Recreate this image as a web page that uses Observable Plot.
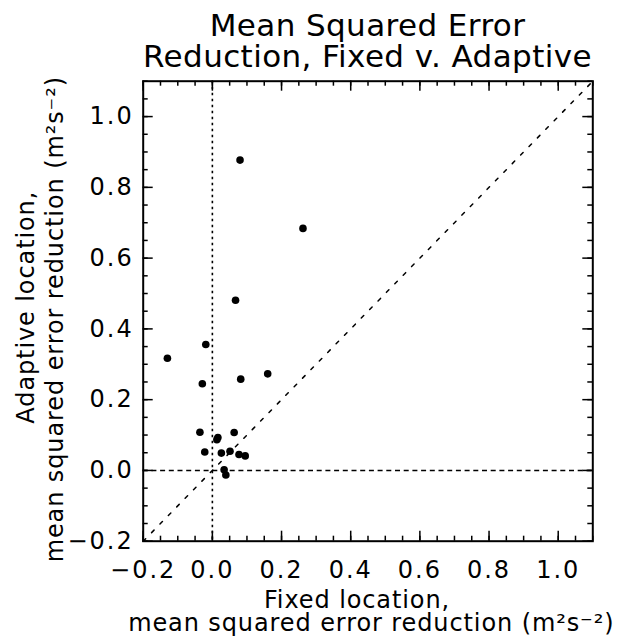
<!DOCTYPE html>
<html>
<head>
<meta charset="utf-8">
<script src="https://cdn.jsdelivr.net/npm/d3@7"></script>
<script src="https://cdn.jsdelivr.net/npm/@observablehq/plot@0.6"></script>
<style>
  html, body { margin: 0; padding: 0; background: #fff; }
  #wrap { position: relative; width: 629px; height: 638px; }
  #title {
    position: absolute;
    top: 0;
    left: 0;
    box-sizing: border-box;
    padding-top: 10px;
    padding-left: 143px;
    width: 592px;
    text-align: center;
    font-family: "DejaVu Sans", sans-serif;
    font-size: 31px;
    line-height: 31px;
    letter-spacing: 0.4px;
    color: #000;
    white-space: nowrap;
    z-index: 1;
  }
  #chart svg text { letter-spacing: 0.9px; }
</style>
</head>
<body>
<div id="wrap">
<div id="title">Mean Squared Error<br>Reduction, Fixed v. Adaptive</div>
<div id="chart"></div>
</div>
<script>
// ---- data ----
const fixedMSE    = [0.080, 0.262, 0.067, -0.019, -0.130, 0.160, 0.082, -0.029, -0.036, 0.063, 0.016, 0.013, -0.022, 0.026, 0.051, 0.077, 0.095, 0.034, 0.039];
const adaptiveMSE = [0.877, 0.684, 0.481, 0.356, 0.317, 0.273, 0.258, 0.245, 0.108, 0.107, 0.093, 0.087, 0.052, 0.049, 0.054, 0.045, 0.041, 0.002, -0.013];

const xDomain = [-0.2, 1.1];
const yDomain = [-0.2, 1.1];
const majorTicks = [-0.2, 0.0, 0.2, 0.4, 0.6, 0.8, 1.0];
const minorTicks = [-0.2, -0.15, -0.1, -0.05, 0, 0.05, 0.1, 0.15, 0.2, 0.25, 0.3, 0.35, 0.4, 0.45, 0.5, 0.55, 0.6, 0.65, 0.7, 0.75, 0.8, 0.85, 0.9, 0.95, 1.0, 1.05, 1.1];
const refZero = [0];

const xLabel1 = "Fixed location,";
const xLabel2 = "mean squared error reduction (m²s⁻²)";
const yLabel1 = "Adaptive location,";
const yLabel2 = "mean squared error reduction (m²s⁻²)";

const points = fixedMSE.map((x, i) => ({x, y: adaptiveMSE[i]}));

// ---- layout ----
const W = 629, H = 638;
const mTop = 80.7, mLeft = 142.7, mRight = 36.7, mBottom = 97.3;
const fw = W - mLeft - mRight, fh = H - mTop - mBottom;
const majLen = 10, minLen = 5;
const fmt = d3.format(".1f");

const plot = Plot.plot({
  width: W,
  height: H,
  marginTop: mTop,
  marginLeft: mLeft,
  marginRight: mRight,
  marginBottom: mBottom,
  style: {fontFamily: "DejaVu Sans, sans-serif", fontSize: "24px", color: "#000", background: "#fff"},
  x: {domain: xDomain, label: null},
  y: {domain: yDomain, label: null},
  marks: [
    // reference lines
    Plot.ruleX(refZero, {x: d => d, stroke: "#000", strokeWidth: 1.6, strokeDasharray: "2.5,3.5"}),
    Plot.ruleY(refZero, {y: d => d, stroke: "#000", strokeWidth: 1.5, strokeDasharray: "5,3.7"}),
    Plot.line(xDomain, {x: d => d, y: d => d, stroke: "#000", strokeWidth: 1.5, strokeDasharray: "3.5,8.5"}),
    // points
    Plot.dot(points, {x: "x", y: "y", r: 3.8, fill: "#000", stroke: "none"}),
    // inward ticks on all four sides
    Plot.tickX(minorTicks, {x: d => d, insetTop: fh - minLen, stroke: "#000", strokeWidth: 1.5}),
    Plot.tickX(majorTicks, {x: d => d, insetTop: fh - majLen, stroke: "#000", strokeWidth: 1.5}),
    Plot.tickX(minorTicks, {x: d => d, insetBottom: fh - minLen, stroke: "#000", strokeWidth: 1.5}),
    Plot.tickX(majorTicks, {x: d => d, insetBottom: fh - majLen, stroke: "#000", strokeWidth: 1.5}),
    Plot.tickY(minorTicks, {y: d => d, insetRight: fw - minLen, stroke: "#000", strokeWidth: 1.5}),
    Plot.tickY(majorTicks, {y: d => d, insetRight: fw - majLen, stroke: "#000", strokeWidth: 1.5}),
    Plot.tickY(minorTicks, {y: d => d, insetLeft: fw - minLen, stroke: "#000", strokeWidth: 1.5}),
    Plot.tickY(majorTicks, {y: d => d, insetLeft: fw - majLen, stroke: "#000", strokeWidth: 1.5}),
    // tick labels
    Plot.axisX({anchor: "bottom", ticks: majorTicks, tickSize: 0, tickPadding: 20, tickFormat: fmt, fontSize: 24, fill: "#000", label: null}),
    Plot.axisY({anchor: "left", ticks: majorTicks, tickSize: 0, tickPadding: 9.5, tickFormat: fmt, fontSize: 24, fill: "#000", label: null}),
    // frame
    Plot.frame({stroke: "#000", strokeWidth: 2}),
    // axis titles
    Plot.text([xLabel1], {text: d => d, frameAnchor: "bottom", textAnchor: "middle", lineAnchor: "bottom", dx: -11, dy: 66.3, fontSize: 24, fill: "#000"}),
    Plot.text([xLabel2], {text: d => d, frameAnchor: "bottom", textAnchor: "middle", lineAnchor: "bottom", dx: 3.3, dy: 89.3, fontSize: 24, fill: "#000"}),
    Plot.text([yLabel1], {text: d => d, frameAnchor: "left", textAnchor: "middle", lineAnchor: "bottom", rotate: -90, dx: -109.7, dy: -4, fontSize: 24, fill: "#000"}),
    Plot.text([yLabel2], {text: d => d, frameAnchor: "left", textAnchor: "middle", lineAnchor: "bottom", rotate: -90, dx: -80.7, dy: 8, fontSize: 24, fill: "#000"})
  ]
});
// tick labels: slightly wider spacing, like the reference's stroke font
d3.select(plot).selectAll('g[aria-label$="tick label"] text')
  .style("letter-spacing", "2px");
document.getElementById("chart").appendChild(plot);
</script>
</body>
</html>
